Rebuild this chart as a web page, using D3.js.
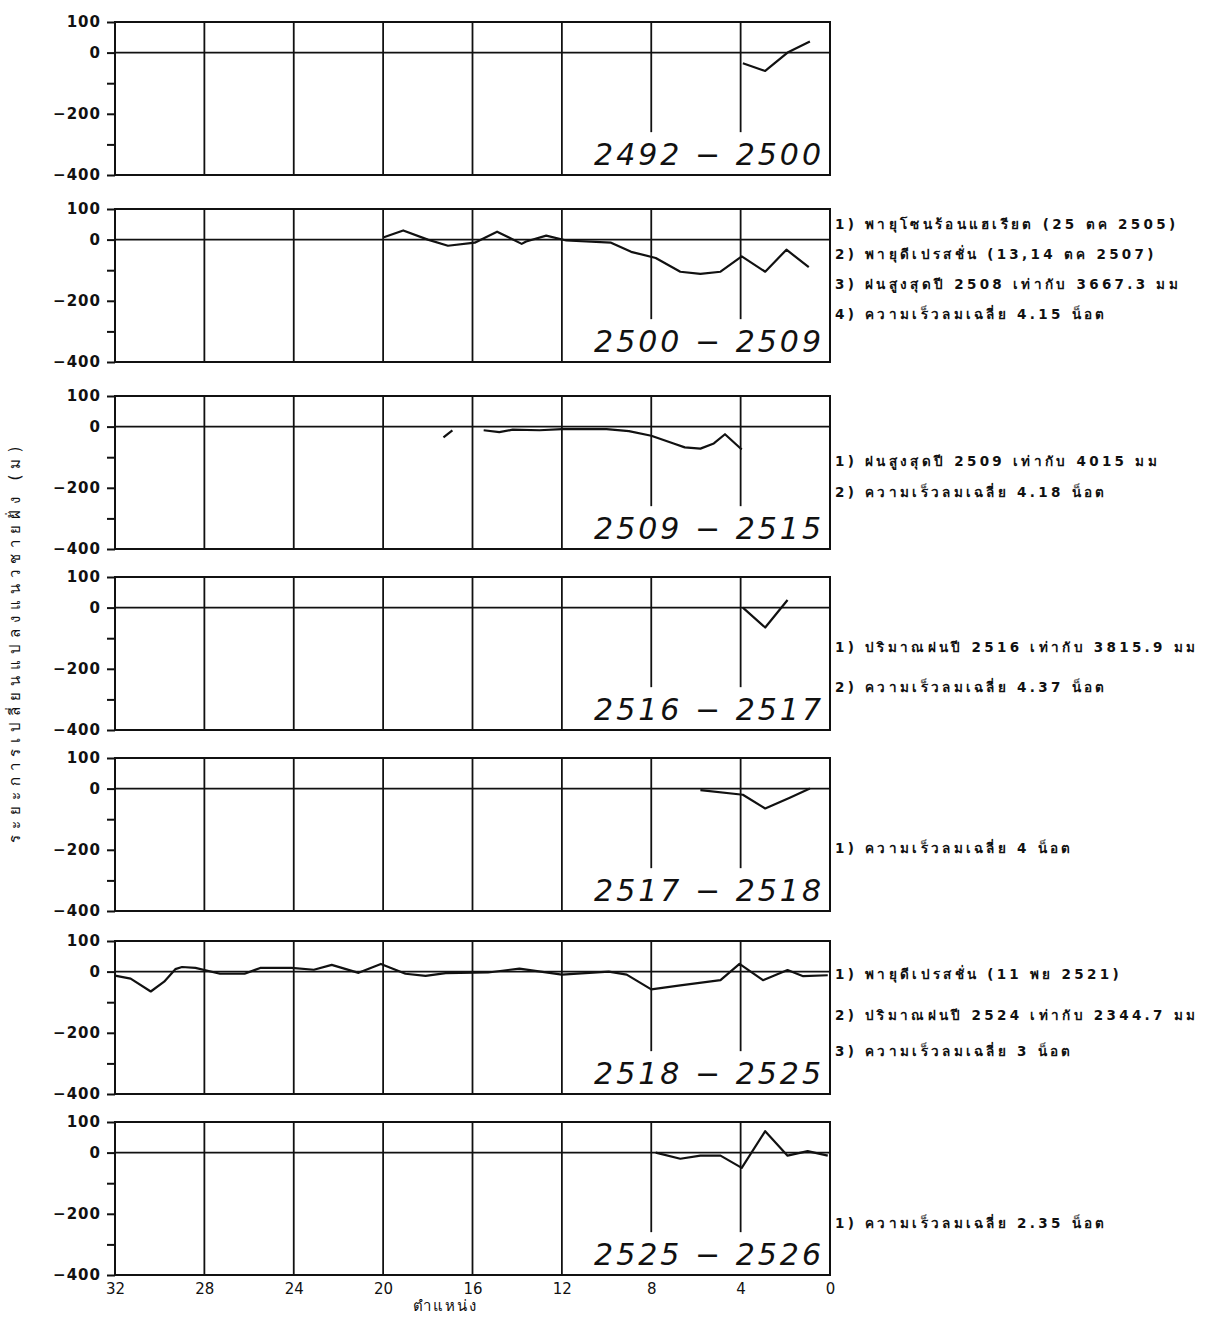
<!DOCTYPE html>
<html>
<head>
<meta charset="utf-8">
<script src="https://cdn.jsdelivr.net/npm/d3@7"></script>
<style>
  body { margin: 0; background: #fff; }
  text { fill: #111; }
</style>
</head>
<body>
<div id="chart"></div>
<script>
// Periods (one panel each)
var periods = ["2492 − 2500", "2500 − 2509", "2509 − 2515", "2516 − 2517",
               "2517 − 2518", "2518 − 2525", "2525 − 2526"];

// x ticks (position) and y ticks (shoreline change, m)
var xTicks = [32, 28, 24, 20, 16, 12, 8, 4, 0];
var yTicks = [100, 0, -200, -400];
var yMinor = [-100, -300];

// Shoreline change per panel: position and value (NaN breaks the line)
var pos1 = [3.9, 2.9, 1.9, 0.9];
var val1 = [-35, -60, 0, 36];

var pos2 = [20, 19.1, 18, 17.1, 15.9, 14.9, 13.8, 13.6, 12.7, 11.8, 9.8, 8.9, 7.8, 6.7, 5.8, 4.9, 3.95, 2.9, 1.95, 0.95];
var val2 = [7, 30, 0, -20, -10, 26, -14, -6, 13, -3, -10, -40, -60, -105, -112, -105, -55, -105, -33, -90];

var pos3 = [17.3, 16.9, NaN, 15.5, 14.8, 14.2, 13, 12, 10, 9, 8, 7, 6.5, 5.8, 5.2, 4.7, 3.95];
var val3 = [-35, -12, NaN, -12, -18, -10, -12, -8, -8, -15, -30, -55, -68, -72, -55, -25, -75];

var pos4 = [3.9, 2.9, 1.9];
var val4 = [0, -65, 25];

var pos5 = [5.8, 3.9, 2.9, 1.8, 0.9];
var val5 = [-5, -20, -65, -30, 0];

var pos6 = [32, 31.3, 30.4, 29.8, 29.3, 29.0, 28.4, 27.3, 26.2, 25.5, 24.1, 23.1, 22.3, 21.1, 20.1, 19.0, 18.1,
            17.2, 15.3, 13.9, 12, 9.9, 9.1, 8.0, 6.7, 4.9, 4.05, 3.0, 1.9, 1.2, 0.1];
var val6 = [-13, -23, -65, -33, 8, 15, 12, -7, -7, 12, 12, 6, 22, -4, 25, -7, -14,
            -5, -3, 10, -10, 0, -10, -58, -45, -28, 25, -28, 5, -15, -12];

var pos7 = [7.8, 6.7, 5.8, 4.9, 3.95, 2.9, 1.9, 1.0, 0.1];
var val7 = [0, -20, -10, -10, -50, 70, -10, 5, -10];

var seriesPos = [pos1, pos2, pos3, pos4, pos5, pos6, pos7];
var seriesVal = [val1, val2, val3, val4, val5, val6, val7];

// Notes beside each panel
var notes1 = [];
var notes2 = ["1) พายุโซนร้อนแฮเรียต (25 ตค 2505)", "2) พายุดีเปรสชั่น (13,14 ตค 2507)",
              "3) ฝนสูงสุดปี 2508 เท่ากับ 3667.3 มม", "4) ความเร็วลมเฉลี่ย 4.15 น็อต"];
var notes3 = ["1) ฝนสูงสุดปี 2509 เท่ากับ 4015 มม", "2) ความเร็วลมเฉลี่ย 4.18 น็อต"];
var notes4 = ["1) ปริมาณฝนปี 2516 เท่ากับ 3815.9 มม", "2) ความเร็วลมเฉลี่ย 4.37 น็อต"];
var notes5 = ["1) ความเร็วลมเฉลี่ย 4 น็อต"];
var notes6 = ["1) พายุดีเปรสชั่น (11 พย 2521)", "2) ปริมาณฝนปี 2524 เท่ากับ 2344.7 มม",
              "3) ความเร็วลมเฉลี่ย 3 น็อต"];
var notes7 = ["1) ความเร็วลมเฉลี่ย 2.35 น็อต"];
var notes = [notes1, notes2, notes3, notes4, notes5, notes6, notes7];

// Layout
var svgWidth = 1225, svgHeight = 1318;
var left = 115, right = 830;
var panelH = 153;
var panelTops = [22, 209, 396, 577, 758, 941, 1122];
var noteOffsets = [[], [20, 50, 80, 110], [70, 101], [75, 115], [95], [38, 79, 115], [106]];

var svg = d3.select("#chart").append("svg")
    .attr("width", svgWidth)
    .attr("height", svgHeight)
    .style("font-family", "'DejaVu Sans', sans-serif");

var x = d3.scaleLinear().domain([32, 0]).range([left, right]);

var line = d3.line()
    .defined(d => !isNaN(d[0]))
    .x(d => x(d[0]))
    .y(d => d.y);

periods.forEach(function(period, i) {
    var top = panelTops[i];
    var y = d3.scaleLinear().domain([100, -400]).range([top, top + panelH]);
    var g = svg.append("g");

    // frame
    g.append("rect")
        .attr("x", left).attr("y", top)
        .attr("width", right - left).attr("height", panelH)
        .attr("fill", "none").attr("stroke", "#111").attr("stroke-width", 2);

    // vertical grid: full for 28..12, partial for 8 and 4
    xTicks.slice(1, -1).forEach(function(t) {
        var y2 = t > 8 ? y(-400) : y(-260);
        g.append("line")
            .attr("x1", x(t)).attr("x2", x(t))
            .attr("y1", y(100)).attr("y2", y2)
            .attr("stroke", "#111").attr("stroke-width", 1.8);
    });

    // zero line
    g.append("line")
        .attr("x1", left).attr("x2", right)
        .attr("y1", y(0)).attr("y2", y(0))
        .attr("stroke", "#111").attr("stroke-width", 1.6);

    // y axis
    var yAxis = d3.axisLeft(y).tickValues(yTicks.concat(yMinor))
        .tickSize(8).tickPadding(6)
        .tickFormat(d => yTicks.indexOf(d) >= 0 ? (d < 0 ? "−" + Math.abs(d) : d) : "");
    var ya = g.append("g").attr("transform", `translate(${left},0)`).call(yAxis);
    ya.select(".domain").remove();
    ya.selectAll("line").attr("stroke", "#111").attr("stroke-width", 2);
    ya.selectAll("text").attr("font-size", "15px").attr("font-weight", "bold")
        .attr("letter-spacing", "1px").attr("fill", "#111")
        .attr("font-family", "'DejaVu Sans', sans-serif");

    // series
    var pts = seriesPos[i].map(function(p, k) {
        var v = seriesVal[i][k];
        var d = [p, v];
        d.y = isNaN(v) ? 0 : y(v);
        return d;
    });
    g.append("path")
        .datum(pts)
        .attr("d", line)
        .attr("fill", "none")
        .attr("stroke", "#111")
        .attr("stroke-width", 2.2)
        .attr("stroke-linejoin", "round");

    // period label
    g.append("text")
        .attr("x", right - 6).attr("y", top + panelH - 10)
        .attr("text-anchor", "end")
        .attr("font-size", "30px")
        .attr("font-style", "italic")
        .attr("letter-spacing", "3px")
        .text(period);

    // notes
    notes[i].forEach(function(n, k) {
        svg.append("text")
            .attr("x", right + 5).attr("y", top + noteOffsets[i][k])
            .attr("font-size", "13.5px")
            .attr("font-weight", "bold")
            .attr("letter-spacing", "3.3px")
            .text(n);
    });

    // bottom x axis on last panel
    if (i === periods.length - 1) {
        var xAxis = d3.axisBottom(x).tickValues(xTicks).tickSize(0).tickPadding(8);
        var xa = g.append("g").attr("transform", `translate(0,${top + panelH})`).call(xAxis);
        xa.select(".domain").remove();
        xa.selectAll("text").attr("font-size", "15px").attr("fill", "#111")
            .attr("font-family", "'DejaVu Sans', sans-serif");
    }
});

// axis titles
svg.append("text")
    .attr("transform", "translate(20, 642) rotate(-90)")
    .attr("text-anchor", "middle")
    .attr("font-size", "15px")
    .attr("letter-spacing", "6px")
    .text("ระยะการเปลี่ยนแปลงแนวชายฝั่ง (ม)");

svg.append("text")
    .attr("x", 445).attr("y", 1311)
    .attr("text-anchor", "middle")
    .attr("font-size", "15px")
    .attr("letter-spacing", "2px")
    .text("ตำแหน่ง");
</script>
</body>
</html>
